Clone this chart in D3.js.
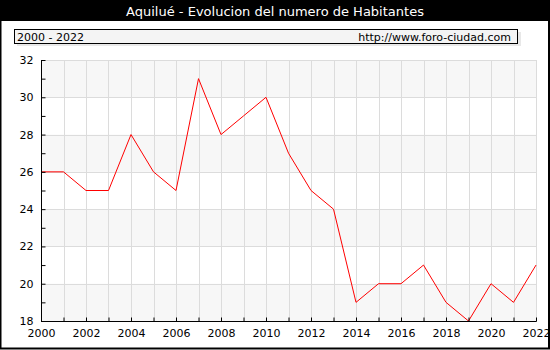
<!DOCTYPE html>
<html><head><meta charset="utf-8">
<script src="https://cdn.jsdelivr.net/npm/d3@7"></script>
<style>body{margin:0;background:#fff}svg{display:block}text{font-family:"DejaVu Sans",Verdana,sans-serif}</style>
</head><body><svg id="c" width="550" height="350"></svg>
<script>
const title = "Aquilué - Evolucion del numero de Habitantes";
const rangeLabel = "2000 - 2022";
const siteLabel = "http://www.foro-ciudad.com";
const years = [2000,2001,2002,2003,2004,2005,2006,2007,2008,2009,2010,2011,2012,2013,2014,2015,2016,2017,2018,2019,2020,2021,2022];
const population = [26,26,25,25,28,26,25,31,28,29,30,27,25,24,19,20,20,21,19,18,20,19,21];
const yTicks = [18,20,22,24,26,28,30,32];
const xTickLabels = [2000,2002,2004,2006,2008,2010,2012,2014,2016,2018,2020,2022];

const svg = d3.select("#c");
const W = 550, H = 350;
const m = {l:41, r:536, t:60, b:321};
const x = d3.scaleLinear().domain([2000,2022]).range([m.l, m.r]);
const y = d3.scaleLinear().domain([18,32]).range([m.b, m.t]);

// frame
svg.append("rect").attr("x",0).attr("y",0).attr("width",W).attr("height",H).attr("fill","#fff");
svg.append("rect").attr("x",0.5).attr("y",0.5).attr("width",W-1.5).attr("height",H-2).attr("fill","none").attr("stroke","#000").attr("stroke-width",2);
svg.append("rect").attr("x",0).attr("y",0).attr("width",W).attr("height",21).attr("fill","#000");
svg.append("text").attr("x",W/2).attr("y",15.5).attr("text-anchor","middle").attr("fill","#fff").attr("font-size",13).text(title);

// header box
svg.append("rect").attr("x",17).attr("y",32).attr("width",504).attr("height",14).attr("fill","#e8e8e8");
svg.append("rect").attr("x",14.5).attr("y",29.5).attr("width",503).attr("height",14).attr("fill","#f4f4f4").attr("stroke","#000").attr("stroke-width",1);
svg.append("text").attr("x",17).attr("y",40.5).attr("font-size",11).attr("fill","#000").text(rangeLabel);
svg.append("text").attr("x",511).attr("y",40.5).attr("font-size",11).attr("text-anchor","end").attr("fill","#000").text(siteLabel);

// bands
for (let i = 0; i < yTicks.length - 1; i++) {
  if (i % 2 === 0) {
    svg.append("rect").attr("x",m.l).attr("width",m.r-m.l)
      .attr("y",y(yTicks[i+1])).attr("height",y(yTicks[i])-y(yTicks[i+1])).attr("fill","#f7f7f7");
  }
}
// grid
svg.append("g").selectAll("line").data(years).join("line")
  .attr("x1",d=>Math.round(x(d))+0.5).attr("x2",d=>Math.round(x(d))+0.5)
  .attr("y1",m.t).attr("y2",m.b).attr("stroke","#dcdcdc");
svg.append("g").selectAll("line").data(yTicks).join("line")
  .attr("x1",m.l).attr("x2",m.r)
  .attr("y1",d=>Math.round(y(d))+0.5).attr("y2",d=>Math.round(y(d))+0.5).attr("stroke","#dcdcdc");

// line
const line = d3.line().x((d,i)=>x(years[i])).y(d=>y(d));
svg.append("path").datum(population).attr("d",line).attr("fill","none").attr("stroke","#ff0000").attr("stroke-width",1);

// axes
const yMinor = d3.range(18,33,1);
const ax = svg.append("g").attr("transform",`translate(${m.l+0.5},0)`)
  .call(d3.axisLeft(y).tickValues(yMinor).tickSize(-4).tickPadding(8)
    .tickFormat(d => yTicks.includes(d) ? d : ""));
ax.select(".domain").attr("d",`M0,${m.t}V${m.b+0.5}`).attr("stroke","#000");
ax.selectAll("text").attr("font-size",11).attr("fill","#000").attr("font-family","DejaVu Sans, Verdana, sans-serif");
ax.selectAll(".tick line").attr("stroke","#000");

const bx = svg.append("g").attr("transform",`translate(0,${m.b+0.5})`)
  .call(d3.axisBottom(x).tickValues(years).tickSize(-4).tickPadding(8)
    .tickFormat(d => xTickLabels.includes(d) ? d : ""));
bx.select(".domain").attr("d",`M${m.l},0H${m.r+0.5}`).attr("stroke","#000");
bx.selectAll("text").attr("font-size",11).attr("fill","#000").attr("font-family","DejaVu Sans, Verdana, sans-serif");
bx.selectAll(".tick line").attr("stroke","#000");
</script></body></html>
